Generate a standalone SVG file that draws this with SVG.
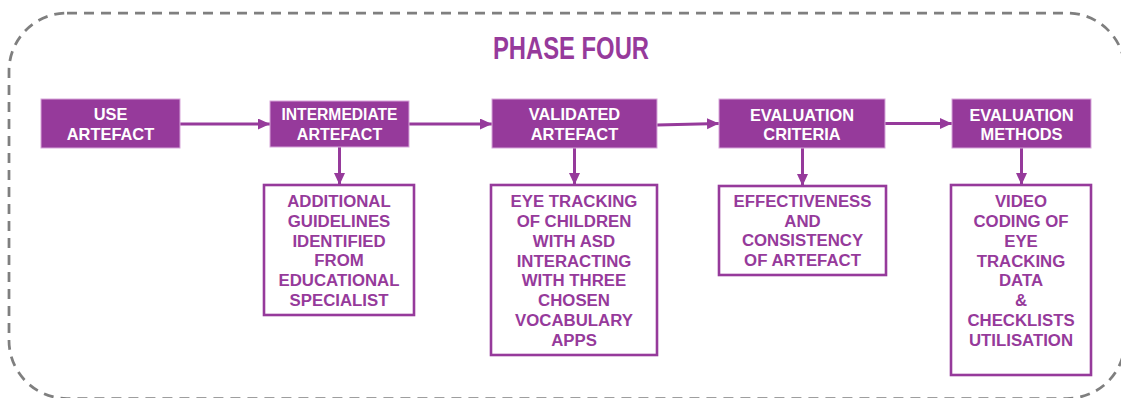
<svg xmlns="http://www.w3.org/2000/svg" width="1121" height="398" viewBox="0 0 1121 398">
  <defs>
    <marker id="ah" markerUnits="userSpaceOnUse" markerWidth="14" markerHeight="12" refX="12" refY="5.5" orient="auto">
      <path d="M0,0 L12,5.5 L0,11 Z" fill="#963a9b"/>
    </marker>
    <style>
      .frame { fill: none; stroke: #7f7f7f; stroke-width: 2.75; stroke-dasharray: 10 7; }
      .title { font-family: "Liberation Sans", Arial, sans-serif; font-weight: bold; font-size: 31px; fill: #963a9b; text-anchor: middle; }
      .fill { fill: #963a9b; stroke: #d7a6da; stroke-width: 1; }
      .out { fill: #ffffff; stroke: #963a9b; stroke-width: 2.6; }
      .wt { font-family: "Liberation Sans", Arial, sans-serif; font-weight: bold; font-size: 16.4px; fill: #ffffff; text-anchor: middle; }
      .wt.sm { font-size: 16px; }
      .pt { font-family: "Liberation Sans", Arial, sans-serif; font-weight: bold; font-size: 16.8px; fill: #963a9b; text-anchor: middle; }
      .conn { fill: none; stroke: #963a9b; stroke-width: 3; marker-end: url(#ah); }
    </style>
  </defs>

  <rect class="frame" x="9" y="13" width="1116" height="385.5" rx="58" ry="58"/>
  <text class="title" x="571" y="59" textLength="156" lengthAdjust="spacingAndGlyphs">PHASE FOUR</text>

  <g id="connectors">
    <line class="conn" x1="180" y1="124" x2="270" y2="124"/>
    <line class="conn" x1="409" y1="124" x2="492" y2="124"/>
    <line class="conn" x1="657" y1="125" x2="719" y2="123.5"/>
    <line class="conn" x1="885" y1="123.5" x2="952" y2="123.5"/>
    <line class="conn" x1="339.5" y1="147" x2="339.5" y2="185"/>
    <line class="conn" x1="574.5" y1="148" x2="574.5" y2="185"/>
    <line class="conn" x1="802.5" y1="148" x2="802.5" y2="186"/>
    <line class="conn" x1="1021.5" y1="148" x2="1021.5" y2="185"/>
  </g>

  <g id="use-artefact">
    <rect class="fill" x="41" y="99" width="139" height="49"/>
    <text class="wt" x="110.5" y="120">USE</text>
    <text class="wt" x="110.5" y="139.5">ARTEFACT</text>
  </g>

  <g id="intermediate-artefact">
    <rect class="fill" x="270" y="101" width="139" height="46"/>
    <text class="wt sm" x="339.5" y="120" textLength="116" lengthAdjust="spacingAndGlyphs">INTERMEDIATE</text>
    <text class="wt sm" x="339.5" y="139.5">ARTEFACT</text>
  </g>

  <g id="validated-artefact">
    <rect class="fill" x="492" y="99" width="165" height="49"/>
    <text class="wt" x="574.5" y="120">VALIDATED</text>
    <text class="wt" x="574.5" y="139.5">ARTEFACT</text>
  </g>

  <g id="evaluation-criteria">
    <rect class="fill" x="719" y="99" width="166" height="49"/>
    <text class="wt" x="802" y="120.5">EVALUATION</text>
    <text class="wt" x="802" y="140">CRITERIA</text>
  </g>

  <g id="evaluation-methods">
    <rect class="fill" x="952" y="99" width="139" height="49"/>
    <text class="wt" x="1021.5" y="120.5">EVALUATION</text>
    <text class="wt" x="1021.5" y="140">METHODS</text>
  </g>

  <g id="additional-guidelines">
    <rect class="out" x="264" y="185" width="150" height="130"/>
    <text class="pt" x="339" y="207">ADDITIONAL</text>
    <text class="pt" x="339" y="226.8">GUIDELINES</text>
    <text class="pt" x="339" y="246.6">IDENTIFIED</text>
    <text class="pt" x="339" y="266.4">FROM</text>
    <text class="pt" x="339" y="286.2">EDUCATIONAL</text>
    <text class="pt" x="339" y="306">SPECIALIST</text>
  </g>

  <g id="eye-tracking">
    <rect class="out" x="491" y="185" width="166" height="170"/>
    <text class="pt" x="574" y="207">EYE TRACKING</text>
    <text class="pt" x="574" y="226.9">OF CHILDREN</text>
    <text class="pt" x="574" y="246.7">WITH ASD</text>
    <text class="pt" x="574" y="266.6">INTERACTING</text>
    <text class="pt" x="574" y="286.4">WITH THREE</text>
    <text class="pt" x="574" y="306.3">CHOSEN</text>
    <text class="pt" x="574" y="326.1">VOCABULARY</text>
    <text class="pt" x="574" y="346">APPS</text>
  </g>

  <g id="effectiveness">
    <rect class="out" x="719" y="186" width="167" height="89"/>
    <text class="pt" x="802.5" y="207">EFFECTIVENESS</text>
    <text class="pt" x="802.5" y="226.7">AND</text>
    <text class="pt" x="802.5" y="246.3">CONSISTENCY</text>
    <text class="pt" x="802.5" y="266">OF ARTEFACT</text>
  </g>

  <g id="video-coding">
    <rect class="out" x="951" y="185" width="140" height="190"/>
    <text class="pt" x="1021" y="207">VIDEO</text>
    <text class="pt" x="1021" y="226.9">CODING OF</text>
    <text class="pt" x="1021" y="246.7">EYE</text>
    <text class="pt" x="1021" y="266.6">TRACKING</text>
    <text class="pt" x="1021" y="286.4">DATA</text>
    <text class="pt" x="1021" y="306.3">&amp;</text>
    <text class="pt" x="1021" y="326.1">CHECKLISTS</text>
    <text class="pt" x="1021" y="346">UTILISATION</text>
  </g>
</svg>
